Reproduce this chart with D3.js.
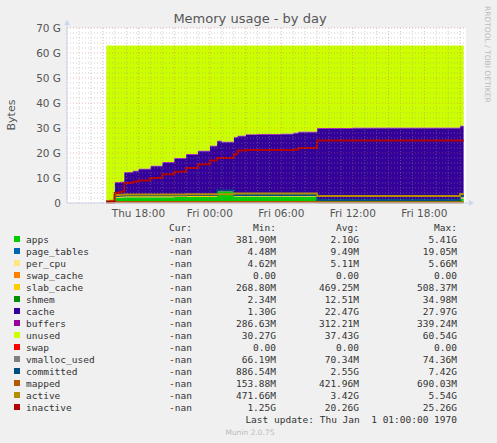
<!DOCTYPE html>
<html>
<head>
<meta charset="UTF-8">
<script src="https://d3js.org/d3.v7.min.js"></script>
<style>
  body { margin: 0; background: #f0f0f0; }
  text { font-family: "DejaVu Sans", sans-serif; }
  .mono { font-family: "DejaVu Sans Mono", monospace; font-size: 9.5px; fill: #333; }
</style>
</head>
<body>
<svg id="chart" width="497" height="443"></svg>
<script>
// hours since Thu 00:00
const times = [15.3,15.6,16,16.4,16.8,17.5,18,19,20,21,22,23,24,24.6,25,26,26.3,27,28,29,30,31,31.4,32,33,34,36,38,40,42,43,44,45,45.3];
// values in G
const apps      = [0.4,0.5,2.0,2.2,2.3,2.3,2.3,2.3,2.3,2.4,2.4,2.4,2.4,4.6,4.6,2.6,2.6,2.6,2.6,2.6,2.6,2.6,2.6,2.6,0.9,0.9,0.9,0.9,0.9,0.9,0.9,0.9,1.8,1.8];
const pageTables= times.map(() => 0.01);
const perCpu    = times.map(() => 0.005);
const swapCache = times.map(() => 0);
const slabCache = [0.2,0.2,0.45,0.45,0.45,0.45,0.45,0.45,0.45,0.45,0.45,0.45,0.45,0.45,0.45,0.45,0.45,0.45,0.45,0.45,0.45,0.45,0.45,0.45,0.5,0.5,0.5,0.5,0.5,0.5,0.5,0.5,0.5,0.5];
const shmem     = times.map(() => 0.012);
const cache     = [0,0,5.6,5.6,9.3,9.9,10.7,11.9,13.3,14.8,16.4,17.8,19.8,19.6,19.2,23,23.6,24.1,24.2,24.2,24.4,24.8,25.2,25.2,28.3,28.3,28.5,28.5,28.5,28.5,28.5,28.5,28.4,28.4];
const buffers   = [0.2,0.3,0.3,0.3,0.3,0.3,0.3,0.3,0.3,0.3,0.3,0.3,0.3,0.3,0.3,0.3,0.3,0.3,0.3,0.3,0.3,0.3,0.3,0.3,0.3,0.3,0.3,0.3,0.3,0.3,0.3,0.3,0.3,0.3];
const unused    = [62.2,62,54.6,54.4,50.6,50,49.2,48,46.6,45,43.4,42,40,38,38.4,36.6,36,35.5,35.4,35.4,35.2,34.8,34.4,34.4,33,33,32.8,32.8,32.8,32.8,32.8,32.8,32,32];
const swap      = times.map(() => 0);
const vmalloc   = times.map(() => 0.07);
const committed = [0.7,0.8,3.0,3.0,3.1,3.1,3.1,3.1,3.1,3.1,3.2,3.2,3.2,5.0,5.0,3.2,3.2,3.2,3.2,3.2,3.2,3.2,3.2,3.2,1.2,1.2,1.2,1.2,1.2,1.2,1.2,1.2,2.8,2.8];
const mapped    = [0.15,0.15,0.4,0.4,0.4,0.4,0.4,0.4,0.4,0.4,0.4,0.4,0.4,0.4,0.4,0.4,0.4,0.4,0.4,0.4,0.4,0.4,0.4,0.4,0.3,0.3,0.3,0.3,0.3,0.3,0.3,0.3,0.3,0.3];
const active    = [0.8,0.9,3.2,3.3,3.4,3.4,3.4,3.4,3.4,3.4,3.5,3.5,3.5,3.5,3.5,3.8,3.8,3.8,3.8,3.8,3.8,3.8,3.8,3.8,2.8,2.8,2.8,2.8,2.8,2.8,2.8,2.8,3.6,3.6];
const inactive  = [0.5,0.6,4,4.5,8,8.5,9,10,11.5,12.5,14,15.5,17,18,18,19.5,21,21.2,21.2,21.2,21.2,21.3,22,22,25,25,25,25,25,25,25,25,25,25];

const names  = ["apps","page_tables","per_cpu","swap_cache","slab_cache","shmem","cache","buffers","unused","swap","vmalloc_used","committed","mapped","active","inactive"];
const colors = ["#00cc00","#0066b3","#ffe680","#ff8000","#ffcc00","#008f00","#330099","#990099","#ccff00","#ff0000","#808080","#004d80","#b35900","#b38f00","#b30000"];
const curVals = names.map(() => "-nan");
const minVals = ["381.90M","4.48M","4.62M","0.00","268.80M","2.34M","1.30G","286.63M","30.27G","0.00","66.19M","886.54M","153.88M","471.66M","1.25G"];
const avgVals = ["2.10G","9.49M","5.11M","0.00","469.25M","12.51M","22.47G","312.21M","37.43G","0.00","70.34M","2.55G","421.96M","3.42G","20.26G"];
const maxVals = ["5.41G","19.05M","5.66M","0.00","508.37M","34.98M","27.97G","339.24M","60.54G","0.00","74.36M","7.42G","690.03M","5.54G","25.26G"];
const yTicks = [0,10,20,30,40,50,60,70];
const xTicks = [18,24,30,36,42];
const xTickLabels = ["Thu 18:00","Fri 00:00","Fri 06:00","Fri 12:00","Fri 18:00"];

const stackSeries = [apps,pageTables,perCpu,swapCache,slabCache,shmem,cache,buffers,unused,swap];
const lineSeries = [vmalloc,committed,mapped,active,inactive];

const svg = d3.select("#chart");
const L = 67, R = 466, T = 28, B = 203;
const x = d3.scaleLinear().domain([12, 45.5]).range([L, R]);
const y = d3.scaleLinear().domain([0, 70]).range([B, T]);

svg.append("rect").attr("x", L).attr("y", T).attr("width", R - L).attr("height", B - T).attr("fill", "#fff");

// stacked areas
const rows = times.map((t, i) => {
  const r = { t };
  stackSeries.forEach((s, k) => r[names[k]] = s[i]);
  return r;
});
const stack = d3.stack().keys(names.slice(0, 10))(rows);
const area = d3.area().curve(d3.curveStepAfter).x(d => x(d.data.t)).y0(d => y(d[0])).y1(d => y(d[1]));
svg.append("g").selectAll("path").data(stack).join("path")
  .attr("d", area).attr("fill", (d, i) => colors[i]);

// lines
const line = d3.line().curve(d3.curveStepAfter).x((d, i) => x(times[i])).y(d => y(d));
lineSeries.forEach((s, k) => {
  svg.append("path").attr("d", line(s)).attr("fill", "none")
    .attr("stroke", colors[10 + k]).attr("stroke-width", k === 0 ? 1 : 1.8);
});

// grid (drawn over the data, as rrdtool does)
const g = svg.append("g").attr("opacity", 0.55);
d3.range(0, 71, 2).forEach(v => g.append("line").attr("x1", L).attr("x2", R).attr("y1", y(v)).attr("y2", y(v))
  .attr("stroke", v % 10 === 0 ? "#d06060" : "#999").attr("stroke-dasharray", "1,2").attr("stroke-width", 0.8));
d3.range(12, 46, 1).forEach(h => g.append("line").attr("y1", T).attr("y2", B).attr("x1", x(h)).attr("x2", x(h))
  .attr("stroke", h % 3 === 0 ? "#d06060" : "#999").attr("stroke-dasharray", "1,2").attr("stroke-width", 0.8));

// axes
svg.append("line").attr("x1", L).attr("x2", R + 5).attr("y1", B).attr("y2", B).attr("stroke", "#ccd6f0");
svg.append("line").attr("x1", L).attr("x2", L).attr("y1", B).attr("y2", T - 5).attr("stroke", "#ccd6f0");
svg.append("path").attr("d", `M${R + 3},${B - 3}L${R + 8},${B}L${R + 3},${B + 3}Z`).attr("fill", "#ccd6f0");
svg.append("path").attr("d", `M${L - 3},${T - 3}L${L},${T - 8}L${L + 3},${T - 3}Z`).attr("fill", "#ccd6f0");

yTicks.forEach(v => svg.append("text").attr("x", 61).attr("y", y(v) + 4).attr("text-anchor", "end")
  .attr("font-size", 10.5).attr("fill", "#555").text(v === 0 ? "0" : v + " G"));
xTicks.forEach((h, i) => svg.append("text").attr("x", x(h)).attr("y", 217).attr("text-anchor", "middle")
  .attr("font-size", 10.5).attr("fill", "#555").text(xTickLabels[i]));

svg.append("text").attr("x", 250).attr("y", 23).attr("text-anchor", "middle").attr("font-size", 13).attr("fill", "#555").text("Memory usage - by day");
svg.append("text").attr("transform", "translate(15,115) rotate(-90)").attr("text-anchor", "middle").attr("font-size", 11).attr("fill", "#555").text("Bytes");
svg.append("text").attr("transform", "translate(485,6) rotate(90)").attr("font-size", 7.5).attr("fill", "#bbb").text("RRDTOOL / TOBI OETIKER");

// legend
const lg = svg.append("g");
[["Cur:", 192], ["Min:", 276], ["Avg:", 359], ["Max:", 457]].forEach(([s, xx]) =>
  lg.append("text").attr("class", "mono").attr("x", xx).attr("y", 231).attr("text-anchor", "end").text(s));
names.forEach((n, i) => {
  const yy = 243 + i * 12;
  lg.append("rect").attr("x", 14).attr("y", yy - 7).attr("width", 6).attr("height", 6).attr("fill", colors[i]);
  lg.append("text").attr("class", "mono").attr("x", 26).attr("y", yy).text(n);
  lg.append("text").attr("class", "mono").attr("x", 192).attr("y", yy).attr("text-anchor", "end").text(curVals[i]);
  lg.append("text").attr("class", "mono").attr("x", 276).attr("y", yy).attr("text-anchor", "end").text(minVals[i]);
  lg.append("text").attr("class", "mono").attr("x", 359).attr("y", yy).attr("text-anchor", "end").text(avgVals[i]);
  lg.append("text").attr("class", "mono").attr("x", 457).attr("y", yy).attr("text-anchor", "end").text(maxVals[i]);
});
lg.append("text").attr("class", "mono").attr("x", 457).attr("y", 423).attr("text-anchor", "end").attr("xml:space", "preserve")
  .text("Last update: Thu Jan  1 01:00:00 1970");
svg.append("text").attr("x", 250).attr("y", 435).attr("text-anchor", "middle").attr("font-size", 7.5).attr("fill", "#bbb").text("Munin 2.0.75");
</script>
</body>
</html>
